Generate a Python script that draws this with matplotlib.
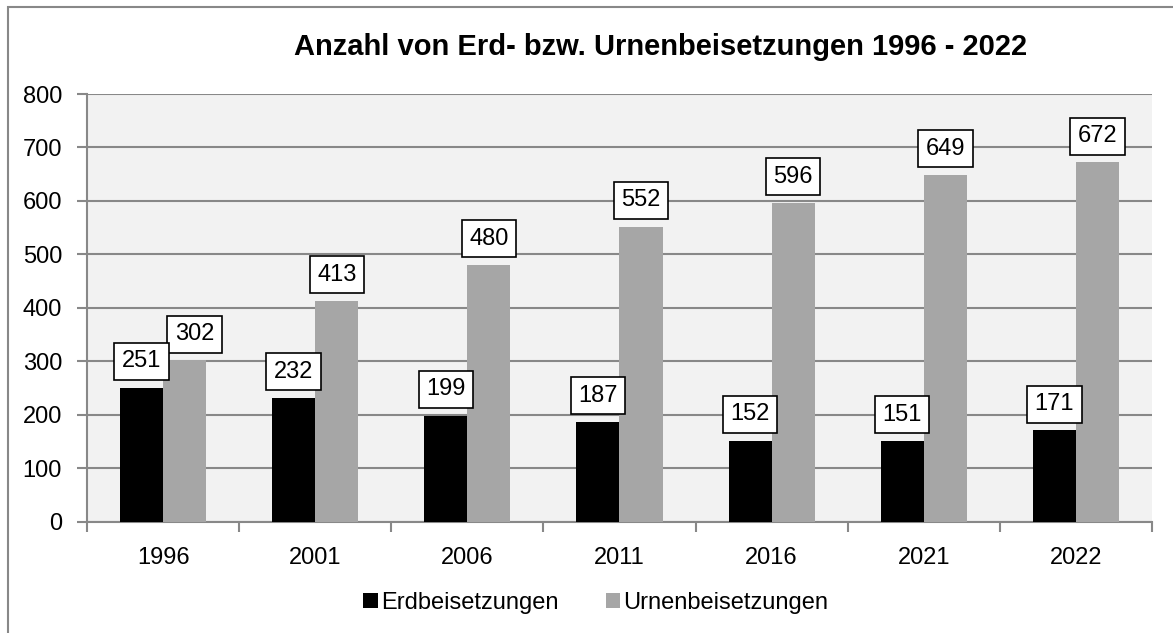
import matplotlib as mpl
from matplotlib import pyplot as plt
from matplotlib.patches import Rectangle
import numpy as np

# %%
years = ['1996', '2001', '2006', '2011', '2016', '2021', '2022']
erd = [251, 232, 199, 187, 152, 151, 171]
urnen = [302, 413, 480, 552, 596, 649, 672]
series_names = ['Erdbeisetzungen', 'Urnenbeisetzungen']

plt.rcParams['font.family'] = ['Liberation Sans', 'DejaVu Sans']

# %%
fig = plt.figure(figsize=(11.73, 6.33), dpi=100)
ax = fig.add_axes([0.0742, 0.1754, 0.9078, 0.6761])
ax.set_facecolor('#f2f2f2')

x = np.arange(len(years))
w = 0.283
b1 = ax.bar(x - w / 2, erd, w, color='black', label=series_names[0], zorder=3)
b2 = ax.bar(x + w / 2, urnen, w, color='#a6a6a6', label=series_names[1], zorder=3)

def autolabel(rects, dx=None, z=5):
    for i, rect in enumerate(rects):
        h = rect.get_height()
        off = 0 if dx is None else dx[i]
        ax.annotate('{}'.format(int(h)),
                    xy=(rect.get_x() + rect.get_width() / 2, h),
                    xytext=(off, 11), textcoords='offset points',
                    ha='center', va='bottom', fontsize=17, zorder=z,
                    bbox=dict(boxstyle='square,pad=0.32', fc='white', ec='black', lw=1.2))

autolabel(b1, z=6)
autolabel(b2, dx=[7, 0, 0, 0, 0, 0, 0], z=5)

ax.set_xlim(-0.5, len(years) - 0.5)
ax.set_ylim(0, 800)
ax.set_yticks(range(0, 801, 100))
ax.set_xticks(x)
ax.set_xticklabels(years)
ax.set_xticks(np.arange(-0.5, len(years), 1), minor=True)
ax.tick_params(axis='x', which='major', length=0, pad=18, labelsize=17)
ax.tick_params(axis='x', which='minor', length=7, width=1.5, color='#888888', direction='out')
ax.tick_params(axis='y', length=7, width=1.5, color='#888888', pad=11, labelsize=17)
ax.grid(axis='y', color='#888888', linewidth=1.5, zorder=0)
ax.set_axisbelow(True)
for s in ['top', 'right']:
    ax.spines[s].set_visible(False)
for s in ['left', 'bottom']:
    ax.spines[s].set_color('#888888')
    ax.spines[s].set_linewidth(1.5)

fig.text(0.563, 0.926, 'Anzahl von Erd- bzw. Urnenbeisetzungen 1996 - 2022',
         ha='center', va='center', fontsize=21, fontweight='bold')

fig.legend(loc='center', bbox_to_anchor=(596 / 1173, 1 - 603 / 633), ncol=2, frameon=False,
           fontsize=17, handlelength=0.6, handleheight=0.6, handletextpad=0.15,
           columnspacing=2.0)

fig.patches.append(Rectangle((8 / 1173, -0.1), 1.2, 1.1 - 7 / 633, transform=fig.transFigure,
                             fill=False, ec='#888888', lw=1.5))

plt.savefig('out.png', dpi=100)
